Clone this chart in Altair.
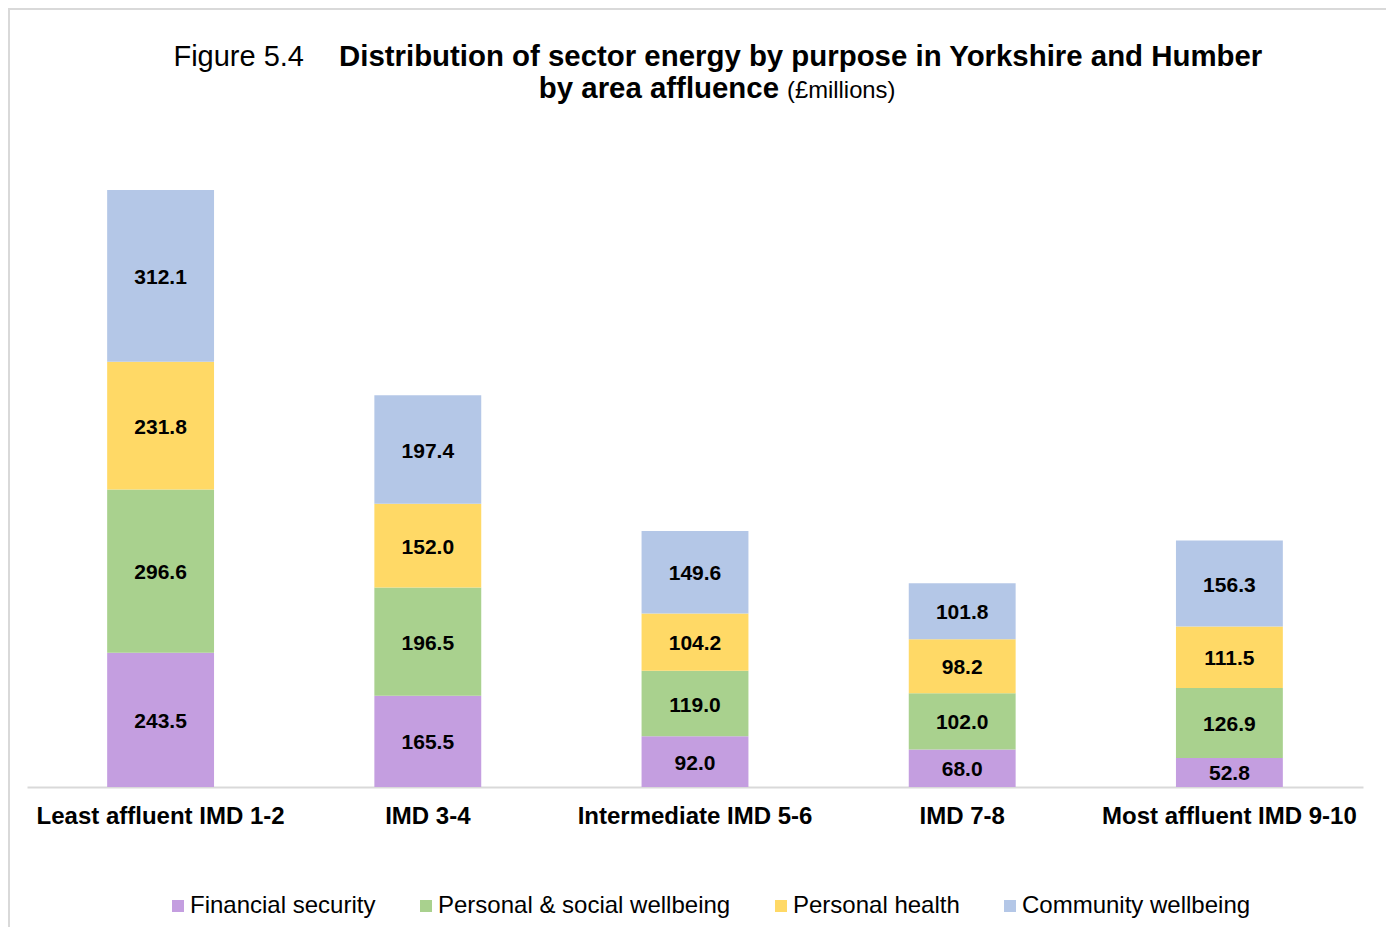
import altair as alt
import pandas as pd

categories = ["Least affluent IMD 1-2", "IMD 3-4", "Intermediate IMD 5-6", "IMD 7-8", "Most affluent IMD 9-10"]
series = ["Financial security", "Personal & social wellbeing", "Personal health", "Community wellbeing"]
financial_security = [243.5, 165.5, 92.0, 68.0, 52.8]
personal_social = [296.6, 196.5, 119.0, 102.0, 126.9]
personal_health = [231.8, 152.0, 104.2, 98.2, 111.5]
community = [312.1, 197.4, 149.6, 101.8, 156.3]
colors = ["#c49ee0", "#a9d18e", "#ffd966", "#b4c7e7"]

FONT = "Liberation Sans, Arial, sans-serif"

rows = []
for ci, cat in enumerate(categories):
    base = 0.0
    for si, (name, vals) in enumerate(zip(series, [financial_security, personal_social, personal_health, community])):
        v = vals[ci]
        rows.append({"category": cat, "series": name, "order": si, "value": v,
                     "y0": base, "y1": base + v, "mid": base + v / 2, "label": f"{v:.1f}"})
        base += v
df = pd.DataFrame(rows)

W, H = 1336, 661
PAD_L, PAD_T = 19, 118

x_enc = alt.X("category:N", sort=categories,
              scale=alt.Scale(paddingInner=0.6, paddingOuter=0.3),
              axis=alt.Axis(title=None, labelAngle=0, labelFont=FONT, labelFontSize=24,
                            labelFontWeight="bold", labelColor="black", labelPadding=17,
                            ticks=False, domainColor="#d9d9d9", domainWidth=2, labelLimit=400))
y_scale = alt.Scale(domain=[0, 1200], nice=False)

bars = alt.Chart(df).mark_bar().encode(
    x=x_enc,
    y=alt.Y("y0:Q", scale=y_scale, axis=None),
    y2="y1:Q",
    color=alt.Color("series:N", sort=series,
                    scale=alt.Scale(domain=series, range=colors),
                    legend=alt.Legend(title=None, orient="none", direction="horizontal",
                                      legendX=139, legendY=768, symbolType="square",
                                      symbolSize=144, symbolStrokeWidth=0, labelFont=FONT,
                                      labelFontSize=24, labelColor="black", labelOffset=0,
                                      columnPadding=38, padding=0, labelLimit=500)),
)

labels = alt.Chart(df).mark_text(font=FONT, fontSize=21, fontWeight="bold", color="black",
                                 baseline="middle", dy=2).encode(
    x=alt.X("category:N", sort=categories),
    y=alt.Y("mid:Q", scale=y_scale),
    text="label:N",
)

title_df = pd.DataFrame({"a": [0]})
def txt(text, x, y, size, weight, align):
    return alt.Chart(title_df).mark_text(text=text, font=FONT, fontSize=size, fontWeight=weight,
                                         color="black", align=align, baseline="alphabetic").encode(
        x=alt.value(x), y=alt.value(y))

t1 = txt("Figure 5.4", 277, -60, 29, "normal", "right")
t2 = txt("Distribution of sector energy by purpose in Yorkshire and Humber", 312, -60, 29.4, "bold", "left")
t3 = txt("by area affluence", 752, -28, 29.4, "bold", "right")
t4 = txt("(£millions)", 760, -28, 23.8, "normal", "left")

top_border = alt.Chart(title_df).mark_rule(color="#d9d9d9", strokeWidth=2).encode(
    x=alt.value(-PAD_L), x2=alt.value(W + 60), y=alt.value(-PAD_T + 1))
left_border = alt.Chart(title_df).mark_rule(color="#d9d9d9", strokeWidth=2).encode(
    x=alt.value(-PAD_L + 1), y=alt.value(-PAD_T), y2=alt.value(H + 200))

chart = alt.layer(bars, labels, t1, t2, t3, t4, top_border, left_border).properties(
    width=W, height=H,
    background="white",
    autosize=alt.AutoSizeParams(type="none"),
    padding={"left": PAD_L, "top": PAD_T, "right": 23, "bottom": 140},
).configure_view(stroke="transparent", strokeWidth=0)

chart.save("out.html", embed_options={"renderer": "svg", "actions": False})
